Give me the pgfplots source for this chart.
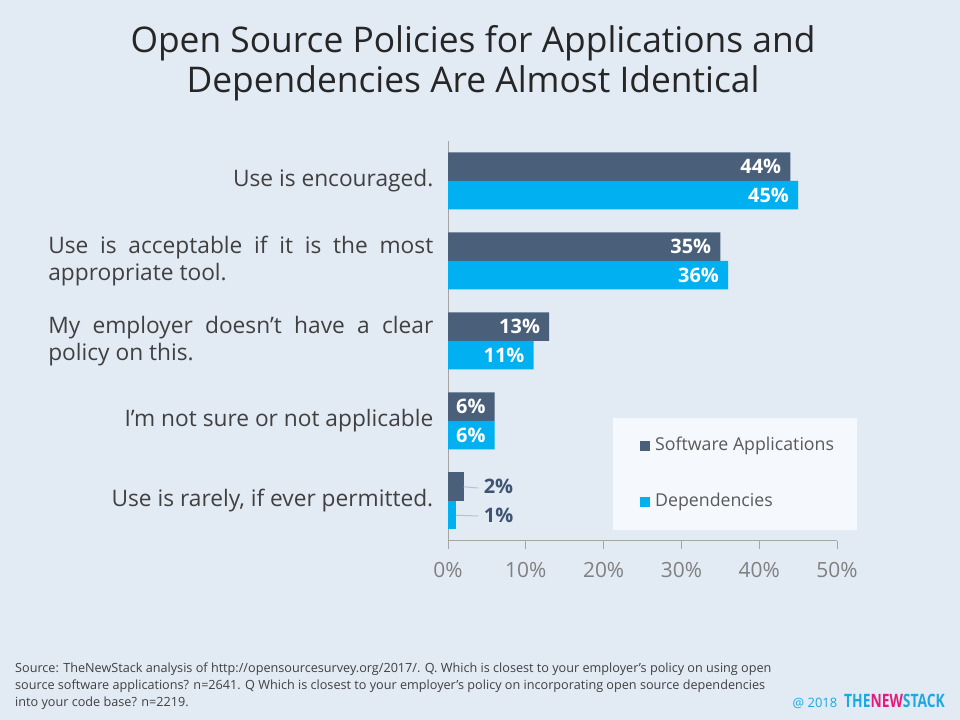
\documentclass[border=0pt]{standalone}
\usepackage{pgfplots}
\pgfplotsset{compat=1.18}
\usepackage{fontspec}
\setmainfont{Open Sans}
\definecolor{bg}{HTML}{E2EAF4}
\definecolor{softc}{HTML}{4A5F7A}
\definecolor{depc}{HTML}{00B0F0}
\definecolor{titc}{HTML}{262626}
\definecolor{labc}{HTML}{404040}
\definecolor{tickc}{HTML}{808080}
\definecolor{legc}{HTML}{595959}
\definecolor{legbg}{HTML}{F5F8FC}
\definecolor{axc}{HTML}{A6A6A6}
\definecolor{smallc}{HTML}{3D5573}
\definecolor{leadc}{HTML}{B4C2D4}
\definecolor{logob}{HTML}{1BA9E1}
\definecolor{logop}{HTML}{E6197E}
\newcommand{\labfont}{\fontsize{22.8}{27}\selectfont}
\newcommand{\valfont}{\bfseries\fontsize{20}{22}\selectfont}
\newcommand{\pushright}{\hspace*{0pt plus 1filll}}
\begin{document}
\hyphenpenalty=10000
\exhyphenpenalty=10000
\begin{tikzpicture}[x=1bp,y=1bp]
\fill[bg] (0,0) rectangle (960,720);
\node[align=center, text=titc, font=\fontsize{35.5}{40}\selectfont] at (473,657) {Open Source Policies for Applications and\\Dependencies Are Almost Identical};
\begin{axis}[
  at={(448bp,179bp)}, anchor=south west,
  scale only axis, width=389bp, height=400bp,
  xbar, bar width=28.5bp,
  xmin=0, xmax=50, ymin=-0.5, ymax=4.5, y dir=reverse,
  axis x line=bottom, axis y line=left,
  x axis line style={draw=axc,-, line width=1bp},
  y axis line style={draw=axc,-, line width=1bp},
  xtick={0,10,20,30,40,50},
  xticklabels={0\%,10\%,20\%,30\%,40\%,50\%},
  xticklabel style={inner sep=0pt, yshift=-13bp, text=tickc, font=\fontsize{21}{24}\selectfont},
  x tick style={draw=axc, line width=1bp},
  xtick pos=bottom, xtick align=outside, major tick length=8bp,
  ytick={0,1,2,3,4},
  yticklabels={
    {\pushright Use is encouraged.},
    {Use is acceptable if it is the most appropriate tool.},
    {My employer doesn't have a clear policy on this.},
    {\pushright I'm not sure or not applicable},
    {\pushright Use is rarely, if ever permitted.}},
  yticklabel style={anchor=east, inner sep=0pt, xshift=-10.5bp, text width=385bp, align=justify, text=labc, font=\labfont},
  y tick style={draw=none},
  /pgf/number format/assume math mode=true,
  clip=false,
]
\addplot[fill=softc, draw=none, bar shift=14.25bp,
  nodes near coords={\pgfmathprintnumber{\pgfplotspointmeta}\%},
  nodes near coords style={anchor=east, inner sep=0pt, xshift=-9bp, text=white, font=\valfont}]
  coordinates {(44,0) (35,1) (13,2) (6,3)};
\addplot[fill=softc, draw=none, bar shift=14.25bp,
  nodes near coords={\pgfmathprintnumber{\pgfplotspointmeta}\%},
  nodes near coords style={anchor=west, inner sep=0pt, xshift=20bp, text=smallc, font=\valfont}]
  coordinates {(2,4)};
\addplot[fill=depc, draw=none, bar shift=-14.25bp,
  nodes near coords={\pgfmathprintnumber{\pgfplotspointmeta}\%},
  nodes near coords style={anchor=east, inner sep=0pt, xshift=-9bp, text=white, font=\valfont}]
  coordinates {(45,0) (36,1) (11,2) (6,3)};
\addplot[fill=depc, draw=none, bar shift=-14.25bp,
  nodes near coords={\pgfmathprintnumber{\pgfplotspointmeta}\%},
  nodes near coords style={anchor=west, inner sep=0pt, xshift=28bp, text=smallc, font=\valfont}]
  coordinates {(1,4)};
\draw[leadc, line width=1bp] ([yshift=14.25bp]axis cs:2,4) -- ([yshift=13bp]axis cs:3.9,4);
\draw[leadc, line width=1bp] ([yshift=-14.25bp]axis cs:1,4) -- ([yshift=-15bp]axis cs:3.9,4);
\end{axis}
% legend
\fill[legbg] (613,190) rectangle (857,302);
\fill[softc] (640,269) rectangle (650,279);
\node[anchor=west, inner sep=0pt, text=legc, font=\fontsize{17.8}{20}\selectfont] at (655,274) {Software Applications};
\fill[depc] (640,213) rectangle (650,223);
\node[anchor=west, inner sep=0pt, text=legc, font=\fontsize{17.8}{20}\selectfont] at (655,218) {Dependencies};
% source
\node[anchor=north west, inner sep=0pt, align=left, text=labc, font=\fontsize{12.7}{17}\selectfont] at (15,57) {Source: TheNewStack analysis of http://opensourcesurvey.org/2017/. Q. Which is closest to your employer's policy on using open\\source software applications? n=2641. Q Which is closest to your employer's policy on incorporating open source dependencies\\into your code base? n=2219.};
\node[anchor=base east, inner sep=0pt, font=\fontsize{13}{14}\selectfont] at (945,12) {\textcolor{logob}{@ 2018}\hspace{7bp}\scalebox{0.75}[1]{\bfseries\fontsize{18.5}{18}\selectfont\textcolor{logob}{THE}\textcolor{logop}{NEW}\textcolor{logob}{STACK}}};
\end{tikzpicture}
\end{document}
